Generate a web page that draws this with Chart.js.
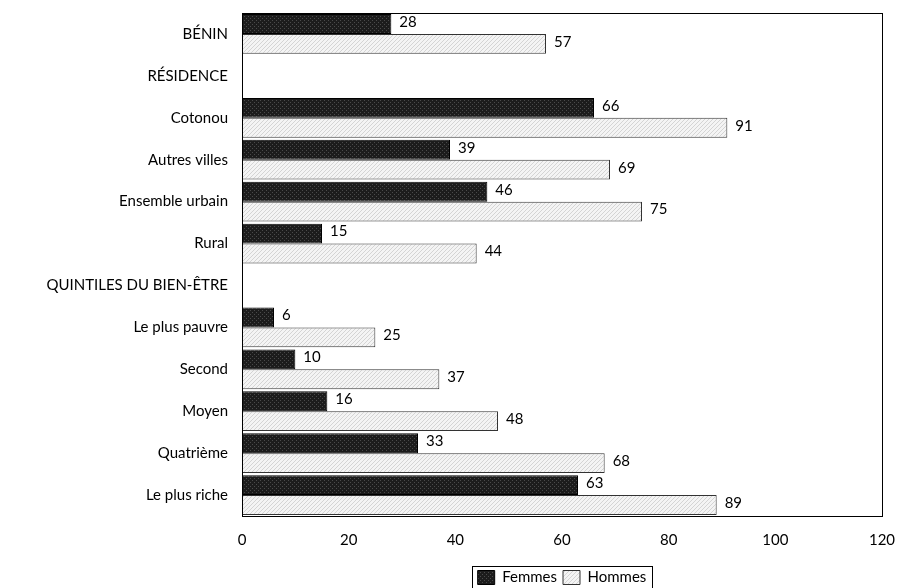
<!DOCTYPE html>
<html>
<head>
<meta charset="utf-8">
<script src="https://cdn.jsdelivr.net/npm/chart.js@4"></script>
<style>
  html, body { margin: 0; padding: 0; background: #fff; }
  #wrap { width: 907px; height: 588px; }
</style>
</head>
<body>
<div id="wrap"><canvas id="chart" width="907" height="588"></canvas></div>
<script>
const categories = ["BÉNIN", "RÉSIDENCE", "Cotonou", "Autres villes", "Ensemble urbain", "Rural",
  "QUINTILES DU BIEN-ÊTRE", "Le plus pauvre", "Second", "Moyen", "Quatrième", "Le plus riche"];
const femmes = [28, null, 66, 39, 46, 15, null, 6, 10, 16, 33, 63];
const hommes = [57, null, 91, 69, 75, 44, null, 25, 37, 48, 68, 89];
const xTicks = [0, 20, 40, 60, 80, 100, 120];

const FONT = "Lato, 'Open Sans', sans-serif";

function makePattern(bg, fg, kind){
    const c = document.createElement("canvas");
    c.width = 4; c.height = 4;
    const g = c.getContext("2d");
    g.fillStyle = bg;
    g.fillRect(0, 0, 4, 4);
    g.fillStyle = fg;
    if(kind === "dots"){
        g.fillRect(0, 0, 1, 1);
        g.fillRect(2, 2, 1, 1);
    } else {
        for(let i = 0; i < 4; i++) g.fillRect(i, 3 - i, 1, 1);
    }
    return g.createPattern(c, "repeat");
}

const darkFill = makePattern("#1c1c1c", "#4a4a4a", "dots");
const lightFill = makePattern("#f4f4f4", "#d4d4d4", "diag");

// value labels at the end of each bar
const valueLabels = {
    id: "valueLabels",
    afterDatasetsDraw(chart){
        const ctx = chart.ctx;
        ctx.save();
        ctx.font = "15px " + FONT;
        ctx.fillStyle = "#000";
        ctx.textBaseline = "middle";
        chart.data.datasets.forEach((ds, i) => {
            chart.getDatasetMeta(i).data.forEach((bar, j) => {
                if(ds.data[j] == null) return;
                ctx.fillText(ds.data[j], bar.x + 8, bar.y - 2);
            });
        });
        ctx.restore();
    }
};

// legend centred under the plot, boxes around plot and legend
const frames = {
    id: "frames",
    afterLayout(chart){
        const lg = chart.legend, a = chart.chartArea;
        lg.left = a.left;
        lg.right = a.right;
        lg.width = a.right - a.left;
        const tops = lg.legendHitBoxes.map(h => h.top);
        lg.adjustHitBoxes();
        lg.legendHitBoxes.forEach((h, i) => { h.top = tops[i]; });
    },
    afterDraw(chart){
        const ctx = chart.ctx, a = chart.chartArea;
        const boxes = chart.legend.legendHitBoxes;
        ctx.save();
        ctx.strokeStyle = "#000";
        ctx.lineWidth = 1;
        ctx.strokeRect(Math.round(a.left) + 0.5, Math.round(a.top) + 0.5,
            Math.round(a.right - a.left), Math.round(a.bottom - a.top));
        if(boxes && boxes.length){
            const first = boxes[0], last = boxes[boxes.length - 1];
            const l = Math.round(first.left) - 6, r = Math.round(last.left + last.width) + 6;
            const t = Math.round(first.top) - 4, b = Math.round(first.top + first.height) + 4;
            ctx.strokeRect(l + 0.5, t + 0.5, r - l, b - t);
        }
        ctx.restore();
    }
};

new Chart(document.getElementById("chart").getContext("2d"), {
    type: "bar",
    data: {
        labels: categories,
        datasets: [
            { label: "Femmes", data: femmes, backgroundColor: darkFill, borderColor: "#000", borderWidth: 1 },
            { label: "Hommes", data: hommes, backgroundColor: lightFill, borderColor: "#333", borderWidth: 1 }
        ]
    },
    options: {
        indexAxis: "y",
        responsive: false,
        animation: false,
        layout: { padding: { top: 13, right: 25, left: 0, bottom: -7 } },
        datasets: { bar: { categoryPercentage: 0.95, barPercentage: 1 } },
        scales: {
            x: {
                min: 0, max: 120,
                afterBuildTicks: s => { s.ticks = xTicks.map(v => ({ value: v })); },
                afterFit: s => { s.paddingLeft = 0; s.paddingRight = 0; },
                grid: { display: false, drawTicks: false },
                border: { display: false },
                ticks: { color: "#000", font: { size: 15, family: FONT }, padding: 15 }
            },
            y: {
                afterFit: s => { s.width = 242; s.paddingTop = 0; s.paddingBottom = 0; },
                grid: { display: false, drawTicks: false },
                border: { display: false },
                ticks: { color: "#000", font: { size: 15, family: FONT }, padding: 14, autoSkip: false }
            }
        },
        plugins: {
            legend: {
                position: "bottom",
                labels: {
                    color: "#000",
                    font: { size: 15, family: FONT },
                    boxWidth: 17, boxHeight: 14,
                    padding: 6
                }
            },
            tooltip: { enabled: false }
        }
    },
    plugins: [valueLabels, frames]
});
</script>
</body>
</html>
